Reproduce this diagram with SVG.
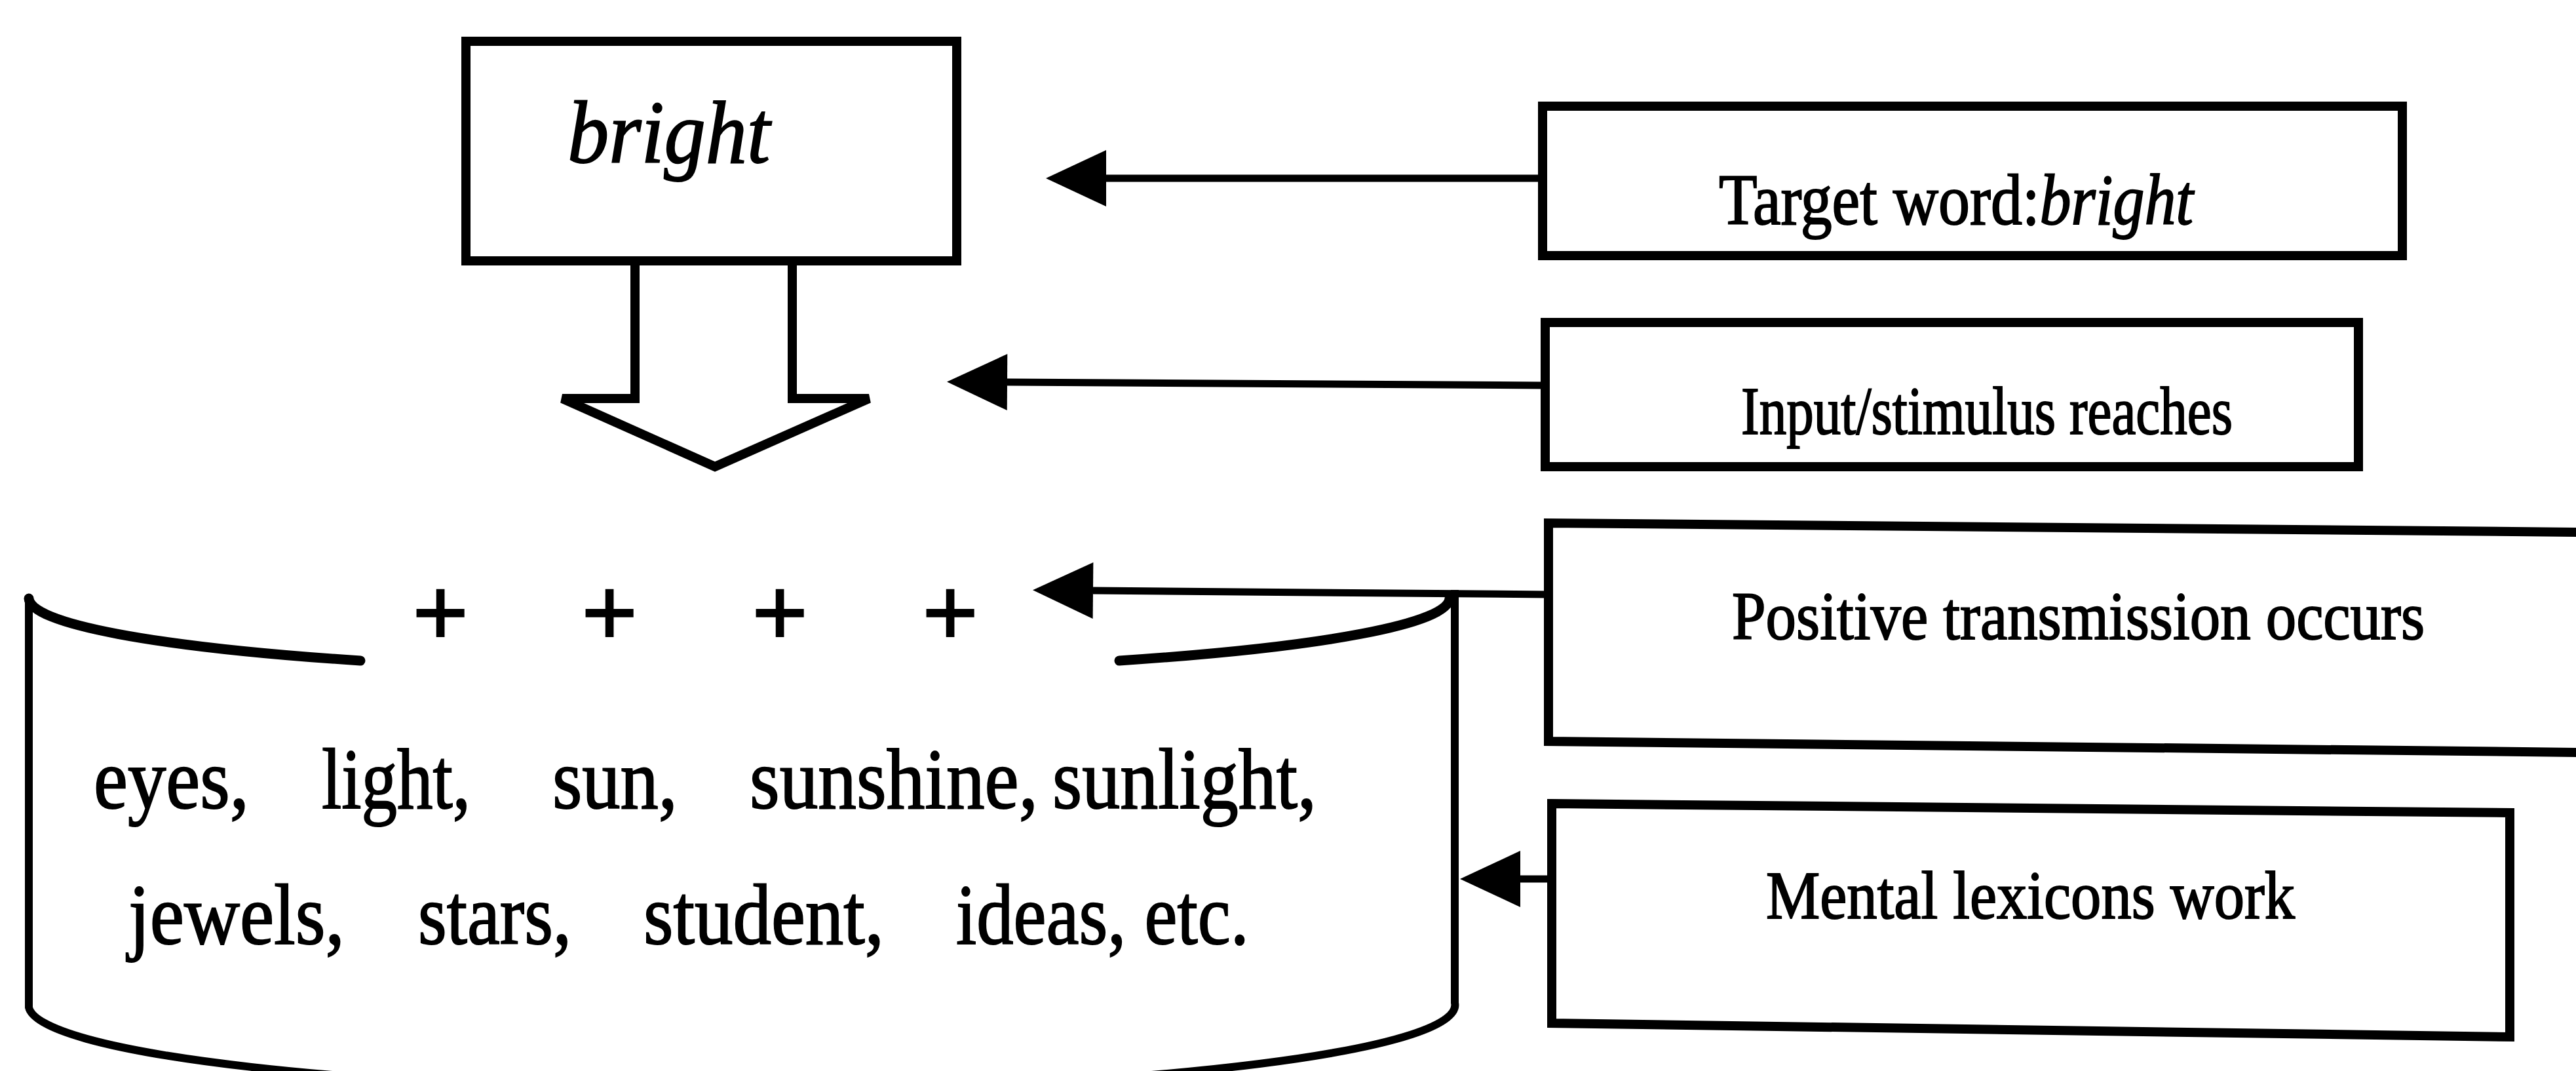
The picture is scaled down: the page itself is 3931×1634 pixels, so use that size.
<svg xmlns="http://www.w3.org/2000/svg" width="3931" height="1634" viewBox="0 0 3931 1634">
<style>
  .box{fill:#fff;stroke:#000;stroke-width:14;stroke-linejoin:miter}
  .ln{fill:none;stroke:#000;stroke-width:11}
  .cyl{fill:none;stroke:#000;stroke-width:12}
  .arc{fill:none;stroke:#000;stroke-width:15;stroke-linecap:round}
  .t{font-family:"Liberation Serif","Times New Roman",serif;fill:#000;stroke:#000;stroke-width:2}
  .lbl{font-size:104px}
  .word{font-size:132px}
  .plus{font-size:153px;font-weight:bold;text-anchor:middle}
</style>
<defs>
  <marker id="ah" markerUnits="userSpaceOnUse" viewBox="0 0 92 86" markerWidth="92" markerHeight="86" refX="0" refY="43" orient="auto" overflow="visible">
    <path d="M0,0 L92,43 L0,86 Z" fill="#000"/>
  </marker>
</defs>
<rect width="3931" height="1634" fill="#fff"/>

<g id="connectors">
  <path class="ln" d="M2354,272 L1688,272" marker-end="url(#ah)"/>
  <path class="ln" d="M2358,588 L1537,583" marker-end="url(#ah)"/>
  <path class="ln" d="M2363,907 L1668,901" marker-end="url(#ah)"/>
  <path class="ln" d="M2368,1341 L2320,1341" marker-end="url(#ah)"/>
</g>

<g id="node-bright">
  <path class="box" d="M969,398 V608 H858 L1091,712 L1326,608 H1209 V398"/>
  <rect class="box" x="711" y="63" width="749" height="335"/>
  <text class="t" x="866" y="248" font-size="135" font-style="italic" textLength="309" lengthAdjust="spacingAndGlyphs">bright</text>
</g>

<g id="node-target">
  <rect class="box" x="2354" y="162" width="1312" height="228"/>
  <text class="t" x="2623" y="342" font-size="110" textLength="724" lengthAdjust="spacingAndGlyphs">Target word:<tspan font-style="italic">bright</tspan></text>
</g>

<g id="node-input">
  <rect class="box" x="2358" y="492" width="1241" height="220"/>
  <text class="t lbl" x="2657" y="662" textLength="750" lengthAdjust="spacingAndGlyphs">Input/stimulus reaches</text>
</g>

<g id="node-positive">
  <path class="box" d="M3940,812 L2363,798 L2363,1131 L3940,1148"/>
  <text class="t lbl" x="2643" y="975" textLength="1057" lengthAdjust="spacingAndGlyphs">Positive transmission occurs</text>
</g>

<g id="node-mental">
  <path class="box" d="M2368,1226 L3830,1240 L3830,1582 L2368,1561 Z"/>
  <text class="t lbl" x="2695" y="1401" textLength="807" lengthAdjust="spacingAndGlyphs">Mental lexicons work</text>
</g>

<g id="node-lexicon">
  <path class="cyl" d="M44,913 V1537 A1088,130 0 0,0 2220,1530 V900"/>
  <path class="arc" d="M44,913 A1084,113 0 0,0 550,1008"/>
  <path class="arc" d="M1708,1008 A1084,113 0 0,0 2212,913"/>
  <text class="t plus" x="672" y="986">+</text>
  <text class="t plus" x="930" y="986">+</text>
  <text class="t plus" x="1190" y="986">+</text>
  <text class="t plus" x="1450" y="986">+</text>
  <text class="t word" x="143" y="1233" textLength="237" lengthAdjust="spacingAndGlyphs">eyes,</text>
  <text class="t word" x="491" y="1233" textLength="227" lengthAdjust="spacingAndGlyphs">light,</text>
  <text class="t word" x="843" y="1233" textLength="191" lengthAdjust="spacingAndGlyphs">sun,</text>
  <text class="t word" x="1144" y="1233" textLength="440" lengthAdjust="spacingAndGlyphs">sunshine,</text>
  <text class="t word" x="1606" y="1233" textLength="403" lengthAdjust="spacingAndGlyphs">sunlight,</text>
  <text class="t word" x="196" y="1440" textLength="330" lengthAdjust="spacingAndGlyphs">jewels,</text>
  <text class="t word" x="638" y="1440" textLength="234" lengthAdjust="spacingAndGlyphs">stars,</text>
  <text class="t word" x="982" y="1440" textLength="367" lengthAdjust="spacingAndGlyphs">student,</text>
  <text class="t word" x="1459" y="1440" textLength="447" lengthAdjust="spacingAndGlyphs">ideas, etc.</text>
</g>
</svg>
